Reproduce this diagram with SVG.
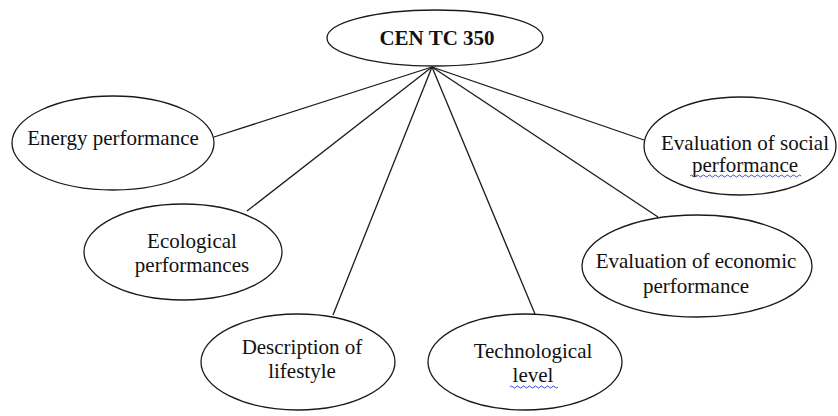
<svg xmlns="http://www.w3.org/2000/svg" width="838" height="416" viewBox="0 0 838 416">
<style>
.n{fill:#fff;stroke:#1a1a1a;stroke-width:1.3}
.c{stroke:#1a1a1a;stroke-width:1.3;fill:none}
text{font-family:'Liberation Serif','Times New Roman','DejaVu Serif',serif;font-size:21px;fill:#111;text-anchor:middle}
.b{font-weight:bold}
.w{fill:none;stroke:#3a4fd8;stroke-width:1}
</style>
<rect width="838" height="416" fill="#fff"/>
<g id="connectors">
<line class="c" x1="432" y1="67" x2="214" y2="137"/>
<line class="c" x1="432" y1="67" x2="247" y2="211"/>
<line class="c" x1="432" y1="67" x2="333" y2="315"/>
<line class="c" x1="432" y1="67" x2="535" y2="314"/>
<line class="c" x1="432" y1="67" x2="658" y2="217"/>
<line class="c" x1="432" y1="67" x2="644" y2="140"/>
</g>
<g id="cen">
<ellipse class="n" cx="435" cy="38" rx="108" ry="28"/>
<text class="b" x="437" y="45">CEN TC 350</text>
</g>
<g id="energy">
<ellipse class="n" cx="113" cy="143" rx="101" ry="47"/>
<text x="113" y="145">Energy performance</text>
</g>
<g id="ecological">
<ellipse class="n" cx="183" cy="252" rx="99" ry="48"/>
<text x="192" y="248">Ecological</text>
<text x="192" y="272">performances</text>
</g>
<g id="lifestyle">
<ellipse class="n" cx="298" cy="362" rx="97" ry="48"/>
<text x="302" y="354">Description of</text>
<text x="302" y="378">lifestyle</text>
</g>
<g id="technological">
<ellipse class="n" cx="525" cy="362" rx="97" ry="48"/>
<text x="533" y="358">Technological</text>
<text x="533" y="382">level</text>
<path class="w" d="M510 387 q1.5 -2 3 0 t3 0 t3 0 t3 0 t3 0 t3 0 t3 0 t3 0 t3 0 t3 0 t3 0 t3 0 t3 0 t3 0 t3 0 t3 0"/>
</g>
<g id="economic">
<ellipse class="n" cx="697" cy="266" rx="115" ry="51"/>
<text x="696" y="268">Evaluation of economic</text>
<text x="696" y="293">performance</text>
</g>
<g id="social">
<ellipse class="n" cx="740" cy="146" rx="96" ry="49"/>
<text x="745" y="150">Evaluation of social</text>
<text x="745" y="172">performance</text>
<path class="w" d="M690 176 q1.5 -2 3 0 t3 0 t3 0 t3 0 t3 0 t3 0 t3 0 t3 0 t3 0 t3 0 t3 0 t3 0 t3 0 t3 0 t3 0 t3 0 t3 0 t3 0 t3 0 t3 0 t3 0 t3 0 t3 0 t3 0 t3 0 t3 0 t3 0 t3 0 t3 0 t3 0 t3 0 t3 0 t3 0 t3 0 t3 0 t3 0 t3 0"/>
</g>
</svg>
